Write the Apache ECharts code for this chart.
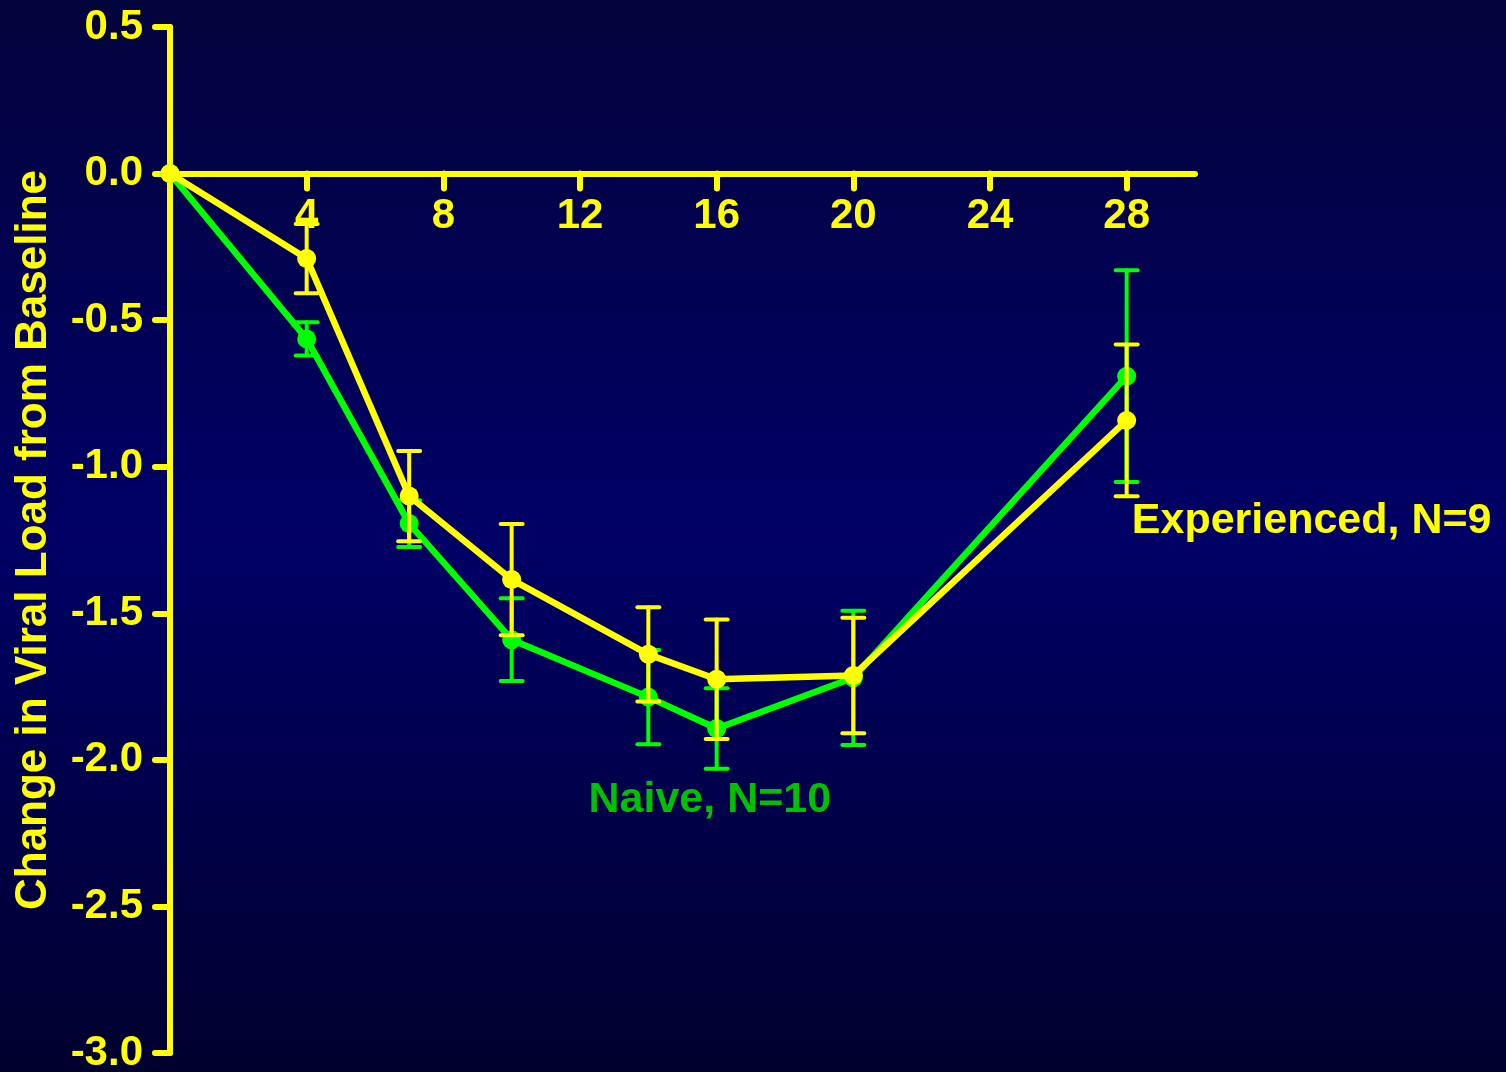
<!DOCTYPE html>
<html>
<head>
<meta charset="utf-8">
<style>
  html, body { margin: 0; padding: 0; }
  #chart { width: 1506px; height: 1072px; }
</style>
<script src="https://cdn.jsdelivr.net/npm/echarts@6/dist/echarts.min.js"></script>
</head>
<body>
<div id="chart"></div>
<script>
// weeks on treatment
const weeks = [0, 4, 7, 10, 14, 16, 20, 28];

// experienced, N=9 (yellow)
const experiencedMean = [0, -0.29, -1.10, -1.385, -1.64, -1.725, -1.712, -0.842];
const experiencedErr  = [0, 0.118, 0.154, 0.19, 0.161, 0.204, 0.197, 0.259];

// naive, N=10 (green)
const naiveMean = [0, -0.564, -1.194, -1.59, -1.786, -1.893, -1.72, -0.691];
const naiveErr  = [0, 0.057, 0.08, 0.141, 0.161, 0.137, 0.229, 0.361];

const xTicks = [4, 8, 12, 16, 20, 24, 28];

const YELLOW = '#ffff00';
const GREEN = '#00ff00';
const FONT = 'Liberation Sans, Arial, sans-serif';

const Y_MIN = -3, Y_MAX = 0.5;
const GRID = { left: 170, right: 311, top: 27, bottom: 19 };

const pairs = (xs, ys) => xs.map((x, i) => [x, ys[i]]);
const errRows = (xs, ys, es) => xs.map((x, i) => [x, ys[i] - es[i], ys[i] + es[i]]);

// error bar drawer: vertical line + two caps
const errorBar = (color) => (params, api) => {
  const lo = api.value(1), hi = api.value(2);
  if (lo === hi) return null;
  const top = api.coord([api.value(0), hi]);
  const bot = api.coord([api.value(0), lo]);
  const half = 11;
  const style = { stroke: color, lineWidth: 4, lineCap: 'round' };
  return {
    type: 'group',
    children: [
      { type: 'line', shape: { x1: top[0], y1: top[1], x2: bot[0], y2: bot[1] }, style },
      { type: 'line', shape: { x1: top[0] - half, y1: top[1], x2: top[0] + half, y2: top[1] }, style },
      { type: 'line', shape: { x1: bot[0] - half, y1: bot[1], x2: bot[0] + half, y2: bot[1] }, style }
    ]
  };
};

const lineSeries = (name, data, color, z, note) => ({
  name,
  type: 'line',
  data,
  z,
  symbol: 'circle',
  symbolSize: 19,
  showAllSymbol: true,
  lineStyle: { color, width: 6.5 },
  itemStyle: { color },
  emphasis: { disabled: true },
  markPoint: {
    symbol: 'circle',
    symbolSize: 0,
    data: [{ coord: note.coord }],
    label: {
      show: true,
      formatter: note.text,
      position: note.position,
      distance: 0,
      color: note.color,
      fontFamily: FONT,
      fontWeight: 'bold',
      fontSize: 43
    }
  }
});

const el = document.getElementById('chart');
const chart = echarts.init(el);

// the x axis sits on y = 0: shift it up from the grid bottom
const plotH = el.clientHeight - GRID.top - GRID.bottom;
const xAxisOffset = -plotH * (0 - Y_MIN) / (Y_MAX - Y_MIN);

chart.setOption({
  backgroundColor: {
    type: 'linear', x: 0, y: 0, x2: 0, y2: 1,
    colorStops: [
      { offset: 0, color: '#03033c' },
      { offset: 0.5, color: '#000066' },
      { offset: 1, color: '#00002e' }
    ]
  },
  animation: false,
  grid: { ...GRID, containLabel: false, outerBoundsMode: 'none' },
  xAxis: {
    type: 'value',
    min: 0,
    max: 30,
    interval: 4,
    offset: xAxisOffset,
    axisLine: { onZero: false, lineStyle: { color: YELLOW, width: 6, cap: 'round' } },
    axisTick: {
      show: true,
      length: 15,
      customValues: xTicks,
      lineStyle: { color: YELLOW, width: 6, cap: 'round' }
    },
    splitLine: { show: false },
    axisLabel: {
      color: YELLOW,
      fontFamily: FONT,
      fontWeight: 'bold',
      fontSize: 42,
      margin: 22,
      customValues: xTicks,
      formatter: v => String(v)
    }
  },
  yAxis: {
    type: 'value',
    min: Y_MIN,
    max: Y_MAX,
    interval: 0.5,
    name: 'Change in Viral Load from Baseline',
    nameLocation: 'middle',
    nameGap: 114,
    nameTextStyle: { color: YELLOW, fontFamily: FONT, fontWeight: 'bold', fontSize: 44 },
    axisLine: { onZero: false, lineStyle: { color: YELLOW, width: 6, cap: 'round' } },
    axisTick: { show: true, length: 15, lineStyle: { color: YELLOW, width: 6, cap: 'round' } },
    splitLine: { show: false },
    axisLabel: {
      color: YELLOW,
      fontFamily: FONT,
      fontWeight: 'bold',
      fontSize: 42,
      margin: 27,
      formatter: v => v.toFixed(1)
    }
  },
  series: [
    lineSeries('Naive', pairs(weeks, naiveMean), GREEN, 2,
      { coord: [15.8, -2.138], text: 'Naive, N=10', position: 'inside', color: '#00c000' }),
    {
      name: 'Naive error',
      type: 'custom',
      z: 2,
      renderItem: errorBar(GREEN),
      data: errRows(weeks, naiveMean, naiveErr)
    },
    lineSeries('Experienced', pairs(weeks, experiencedMean), YELLOW, 3,
      { coord: [28.15, -1.187], text: 'Experienced, N=9', position: 'right', color: YELLOW }),
    {
      name: 'Experienced error',
      type: 'custom',
      z: 3,
      renderItem: errorBar(YELLOW),
      data: errRows(weeks, experiencedMean, experiencedErr)
    }
  ]
});
</script>
</body>
</html>
